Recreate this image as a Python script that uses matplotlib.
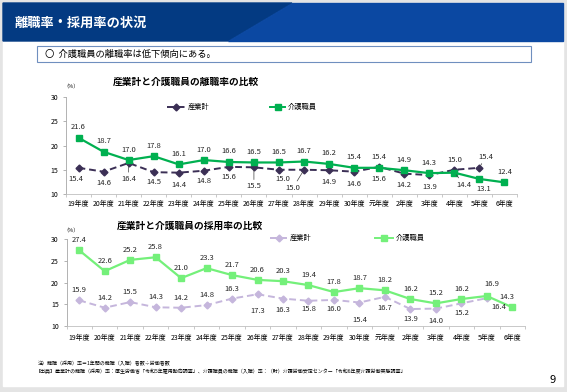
import matplotlib
matplotlib.use('Agg')
import matplotlib.pyplot as plt
from matplotlib.patches import Rectangle, Polygon

plt.rcParams['font.family'] = ['Noto Sans CJK JP', 'DejaVu Sans']

# data
years = ['19年度', '20年度', '21年度', '22年度', '23年度', '24年度', '25年度', '26年度',
         '27年度', '28年度', '29年度', '30年度', '元年度', '2年度', '3年度', '4年度',
         '5年度', '6年度']

rishoku_sangyo = [15.4, 14.6, 16.4, 14.5, 14.4, 14.8, 15.6, 15.5, 15.0, 15.0, 14.9,
                  14.6, 15.6, 14.2, 13.9, 15.0, 15.4]
rishoku_kaigo = [21.6, 18.7, 17.0, 17.8, 16.1, 17.0, 16.6, 16.5, 16.5, 16.7, 16.2,
                 15.4, 15.4, 14.9, 14.3, 14.4, 13.1, 12.4]

saiyo_sangyo = [15.9, 14.2, 15.5, 14.3, 14.2, 14.8, 16.3, 17.3, 16.3, 15.8, 16.0,
                15.4, 16.7, 13.9, 14.0, 15.2, 16.4]
saiyo_kaigo = [27.4, 22.6, 25.2, 25.8, 21.0, 23.3, 21.7, 20.6, 20.3, 19.4, 17.8,
               18.7, 18.2, 16.2, 15.2, 16.2, 16.9, 14.3]

# label offsets in pixels (dx, dy; dy>0 = below)
UP = (0, -10.5)
DN = (0, 11)
off_r_s = [(-3, 11), DN, (0, 16), (0, 10), (0, 12), (0, 10), (0, 10), (0, 19),
           (4, 9), (-11, 18), (0, 12), (0, 12), (0, 12), (0, 11.5), (0, 12),
           (0, -10), (6, -11)]
lead_r_s = [2, 7, 9, 16]
off_r_k = [UP] * 15 + [(10, 12), (4, 10), UP]
lead_r_k = [15]

off_s_s = [(0, -10)] * 7 + [(0, 17), (0, 11), (0, 8), (0, 9), (0, 17), (0, 11),
                            (0, 10), (0, 12), (0, 10), (12, 9)]
lead_s_s = []
off_s_k = [(0, -10)] * 16 + [(5, -12), (-5, -10)]
lead_s_k = []

W, H = 567, 392
fig = plt.figure(figsize=(W / 100, H / 100), dpi=100, facecolor='#e4e4e4')
bg = fig.add_axes([0, 0, 1, 1])
bg.set_xlim(0, W)
bg.set_ylim(H, 0)
bg.axis('off')

# slide
bg.add_patch(Rectangle((3, 3), 560, 383, color='white', zorder=0))
bg.add_patch(Polygon([(3, 3), (292, 3), (228, 41), (3, 41)], color='#033a82', zorder=1))
bg.add_patch(Polygon([(292, 3), (563, 3), (563, 41), (228, 41)], color='#0b48a2', zorder=1))
bg.text(15, 23, '離職率・採用率の状況', color='white', fontsize=9.5, fontweight='bold', va='center')
bg.add_patch(Rectangle((37, 46), 494, 16, fill=False, ec='#6f8fbf', lw=0.8, zorder=2))
bg.text(45, 54.5, '〇  介護職員の離職率は低下傾向にある。', fontsize=6.7, va='center')

bg.text(38, 364, '注）離職（採用）率＝1年間の離職（入職）者数÷労働者数', fontsize=3.6, va='center')
bg.text(36, 371, '【出典】産業計の離職（採用）率：厚生労働省「令和5年雇用動向調査」、介護職員の離職（入職）率：'
        '（財）介護労働安定センター「令和6年度介護労働実態調査」', fontsize=3.6, va='center')
bg.text(553, 380, '9', fontsize=8, ha='center', va='center')


def px_axes(l, t, r, b):
    return fig.add_axes([l / W, 1 - b / H, (r - l) / W, (b - t) / H])


def draw_chart(ax, sangyo, kaigo, c_s, c_k, off_s, off_k, lead_s, lead_k, pad):
    ax.set_facecolor('none')
    ax.plot(range(len(sangyo)), sangyo, color=c_s, ls=(0, (3.5, 2)), lw=1.4,
            marker='D', ms=3.5, zorder=3)
    ax.plot(range(len(kaigo)), kaigo, color=c_k, lw=1.6, marker='s', ms=4.5, zorder=4)
    ax.set_xlim(-0.5, len(years) - 0.5)
    ax.set_ylim(10, 30)
    ax.set_yticks([10, 15, 20, 25, 30])
    ax.set_xticks(range(len(years)))
    ax.set_xticklabels(years)
    ax.set_xticks([i + 0.5 for i in range(-1, len(years))], minor=True)
    ax.tick_params(axis='x', which='major', length=0, labelsize=5, pad=pad)
    ax.tick_params(axis='x', which='minor', length=2.5, color='#bfbfbf', width=0.6)
    ax.tick_params(axis='y', length=2.5, labelsize=5, color='#a6a6a6', width=0.6, pad=3)
    for s in ['top', 'right']:
        ax.spines[s].set_visible(False)
    ax.spines['left'].set_color('#a6a6a6')
    ax.spines['bottom'].set_color('#bfbfbf')
    ax.spines['left'].set_linewidth(0.6)
    ax.spines['bottom'].set_linewidth(0.6)
    for vals, offs, leads in [(sangyo, off_s, lead_s), (kaigo, off_k, lead_k)]:
        for i, v in enumerate(vals):
            dx, dy = offs[i]
            ap = None
            if i in leads:
                ap = dict(arrowstyle='-', color='#404040', lw=0.5, shrinkA=0, shrinkB=2)
            ax.annotate(f'{v:.1f}', (i, v), xytext=(dx, -dy), textcoords='offset pixels',
                        ha='center', va='center', fontsize=5.5, color='#262626',
                        arrowprops=ap, zorder=5)


ax1 = px_axes(66, 97, 517, 194)
draw_chart(ax1, rishoku_sangyo, rishoku_kaigo, '#3b2f55', '#00b050',
           off_r_s, off_r_k, lead_r_s, lead_r_k, 4)
ax2 = px_axes(66.5, 239, 525, 326)
draw_chart(ax2, saiyo_sangyo, saiyo_kaigo, '#c5b6dc', '#74f07a',
           off_s_s, off_s_k, lead_s_s, lead_s_k, 5.5)

# titles
bg.text(186, 82, '産業計と介護職員の離職率の比較', fontsize=7, fontweight='bold', ha='center', va='center')
bg.text(190, 226, '産業計と介護職員の採用率の比較', fontsize=7, fontweight='bold', ha='center', va='center')
bg.text(63, 87, '（%）', fontsize=3.8, va='center')
bg.text(63, 231, '（%）', fontsize=3.8, va='center')


# legends
def legend_item(x0, x1, y, color, ls, marker, ms, label):
    bg.plot([x0, x1], [y, y], color=color, ls=ls, lw=1.4)
    bg.plot([(x0 + x1) / 2], [y], color=color, marker=marker, ms=ms)
    bg.text(x1 + 3, y, label, fontsize=5.2, va='center')


legend_item(167, 185, 107, '#3b2f55', (0, (3.5, 2)), 'D', 3.5, '産業計')
legend_item(270, 285, 107, '#00b050', '-', 's', 4.5, '介護職員')
legend_item(270, 287, 238, '#c5b6dc', (0, (3.5, 2)), 'D', 3.5, '産業計')
legend_item(375, 393, 238, '#74f07a', '-', 's', 4.5, '介護職員')

fig.savefig('out.png', dpi=100, facecolor=fig.get_facecolor())
